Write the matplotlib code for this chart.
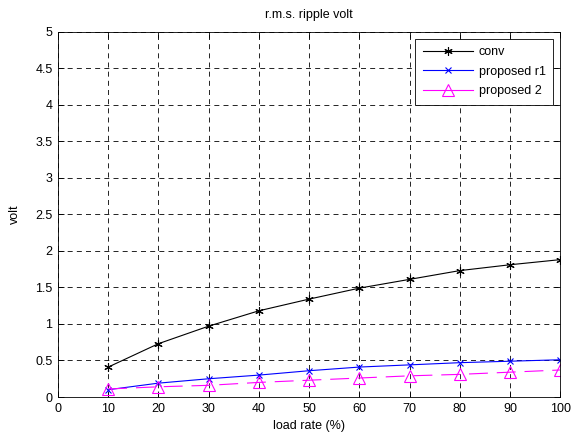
import matplotlib
matplotlib.use("Agg")
import matplotlib.pyplot as plt

plt.rcParams["font.family"] = ["Liberation Sans", "DejaVu Sans"]
plt.rcParams["font.size"] = 9

load_rate = [10, 20, 30, 40, 50, 60, 70, 80, 90, 100]
conv = [0.41, 0.73, 0.97, 1.18, 1.34, 1.49, 1.61, 1.73, 1.81, 1.88]
proposed_r1 = [0.10, 0.19, 0.25, 0.30, 0.36, 0.41, 0.44, 0.47, 0.49, 0.51]
proposed_2 = [0.11, 0.14, 0.16, 0.20, 0.23, 0.26, 0.29, 0.31, 0.34, 0.37]

fig = plt.figure(figsize=(5.86, 4.36), dpi=100)
ax = fig.add_axes([0.099, 0.0894, 0.857, 0.838])

ax.plot(load_rate, conv, color="black", lw=0.8, marker=(6, 2, 0), ms=6,
        mew=0.8, label="conv")
ax.plot(load_rate, proposed_r1, color="blue", lw=0.8, marker="x", ms=4,
        mew=0.8, label="proposed r1")
ax.plot(load_rate, proposed_2, color="magenta", lw=0.8, marker="^", ms=8,
        mfc="none", mew=0.8, dashes=(17, 8), label="proposed 2")

ax.set_xlim(0, 100)
ax.set_ylim(0, 5)
ax.set_xticks(range(0, 101, 10))
ax.set_yticks([0, 0.5, 1, 1.5, 2, 2.5, 3, 3.5, 4, 4.5, 5])
ax.set_yticklabels(["0", "0.5", "1", "1.5", "2", "2.5", "3", "3.5", "4", "4.5", "5"])
ax.grid(True, color="black", linestyle=(0, (6, 5)), linewidth=0.6)
ax.tick_params(direction="in", top=True, right=True, length=4, width=0.6, pad=4)
for s in ax.spines.values():
    s.set_linewidth(0.6)

ax.set_title("r.m.s. ripple volt", fontsize=9, pad=10)
ax.set_xlabel("load rate (%)", labelpad=4)
ax.set_ylabel("volt", labelpad=10)

leg = ax.legend(loc="upper right", fancybox=False, edgecolor="black",
                framealpha=1, fontsize=9, handlelength=4.0, handletextpad=0.5,
                borderaxespad=0.55, labelspacing=0.6, borderpad=0.6)
leg.get_frame().set_linewidth(0.6)
# legend sample line for the dashed series is drawn solid in the original
leg.get_lines()[2].set_linestyle("-")

fig.savefig("out.png", dpi=100)
